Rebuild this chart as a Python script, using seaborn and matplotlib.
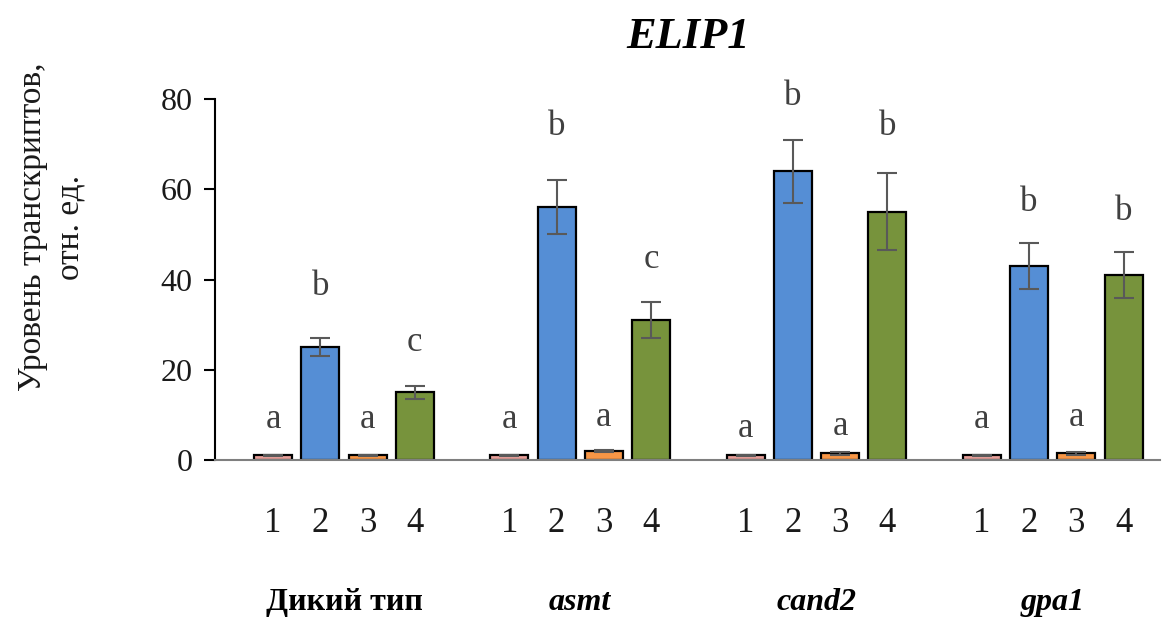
import seaborn as sns
import matplotlib.pyplot as plt
import pandas as pd

# data
genotypes = ["Дикий тип", "asmt", "cand2", "gpa1"]
conditions = ["1", "2", "3", "4"]
values = [
    [1.0, 25.0, 1.0, 15.0],
    [1.0, 56.0, 2.0, 31.0],
    [1.0, 64.0, 1.5, 55.0],
    [1.0, 43.0, 1.5, 41.0],
]
errors = [
    [0.2, 2.0, 0.2, 1.5],
    [0.2, 6.0, 0.3, 4.0],
    [0.2, 7.0, 0.3, 8.5],
    [0.2, 5.0, 0.3, 5.0],
]
letters = [
    ["a", "b", "a", "c"],
    ["a", "b", "a", "c"],
    ["a", "b", "a", "b"],
    ["a", "b", "a", "b"],
]
letter_y = [
    [9, 38.5, 9, 26],
    [9, 74, 9.5, 44.5],
    [7, 80.5, 7.5, 74],
    [9, 57, 9.5, 55],
]
colors = ["#E8A09A", "#558ED5", "#F79646", "#77933C"]

rows = []
for g, gname in enumerate(genotypes):
    for c, cname in enumerate(conditions):
        rows.append({"genotype": gname, "cond": cname, "pos": g * 5 + c,
                     "value": values[g][c], "err": errors[g][c],
                     "letter": letters[g][c], "ly": letter_y[g][c]})
df = pd.DataFrame(rows)

sns.set_style("white")
plt.rcParams["font.family"] = ["Liberation Serif", "DejaVu Serif"]

fig = plt.figure(figsize=(11.71, 6.17), dpi=100)
ax = fig.add_axes([0.1836, 0.2545, 0.807, 0.585])

sns.barplot(data=df, x="pos", y="value", hue="cond", palette=colors,
            native_scale=True, dodge=False, width=0.8, edgecolor="black",
            linewidth=1.6, saturation=1, legend=False, ax=ax)
ax.errorbar(df["pos"], df["value"], yerr=df["err"], fmt="none",
            ecolor="#595959", elinewidth=1.5, capsize=7, capthick=1.5)

for _, r in df.iterrows():
    ax.text(r["pos"], r["ly"], r["letter"], ha="center", va="center",
            fontsize=25, color="#404040")
    ax.text(r["pos"], -14, r["cond"], ha="center", va="center",
            fontsize=25, color="#1a1a1a")

for g, gname in enumerate(genotypes):
    style = "normal" if g == 0 else "italic"
    ax.text(g * 5 + 1.5, -31.5, gname, ha="center", va="center",
            fontsize=23, fontweight="bold", fontstyle=style, color="black")

ax.set_xlim(-1.23, 18.77)
ax.set_ylim(0, 80)
ax.set_yticks([0, 20, 40, 60, 80])
ax.set_xticks([])
ax.set_xlabel("")
ax.set_ylabel("")
ax.tick_params(axis="y", labelsize=23, length=8, width=1.5, direction="out",
               left=True, pad=8, color="black", labelcolor="#1a1a1a")
for s in ["top", "right"]:
    ax.spines[s].set_visible(False)
ax.spines["left"].set_color("black")
ax.spines["left"].set_linewidth(1.5)
ax.spines["bottom"].set_color("#7f7f7f")
ax.spines["bottom"].set_linewidth(1.5)

fig.text(0.588, 0.94, "ELIP1", fontsize=32, fontweight="bold",
         fontstyle="italic", ha="center", va="center", color="black")
fig.text(0.044, 0.632, "Уровень транскриптов,\nотн. ед.", fontsize=24,
         rotation=90, ha="center", va="center", multialignment="center",
         color="#1a1a1a", linespacing=1.3)

fig.savefig("out.png", dpi=100)
